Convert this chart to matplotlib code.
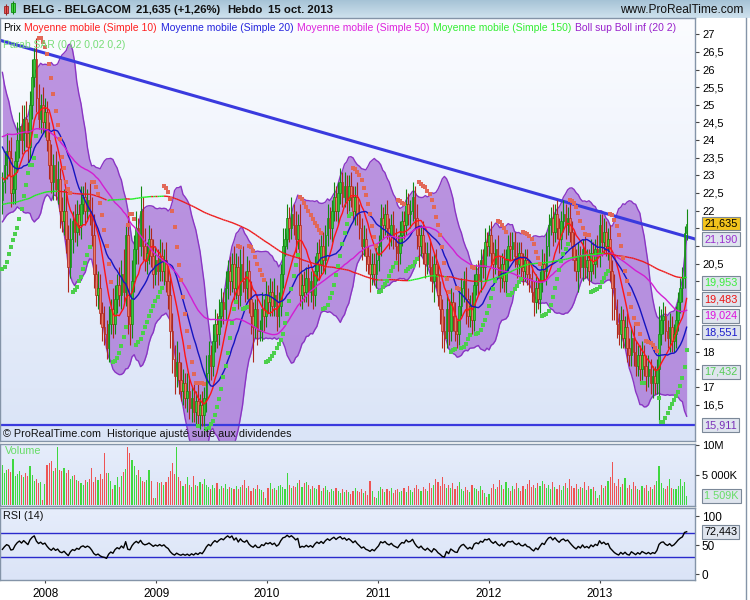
import numpy as np
import pandas as pd
import matplotlib
matplotlib.use("Agg")
import matplotlib.pyplot as plt
from matplotlib.collections import LineCollection
from matplotlib.colors import LinearSegmentedColormap
from matplotlib.transforms import blended_transform_factory

plt.rcParams["font.family"] = ["Liberation Sans", "DejaVu Sans"]

W, H = 750, 600

# ==========================================
# DATA : BELG - BELGACOM, weekly candles
# ==========================================
first_week = "2007-08-13"

# closes of the weeks before the visible window (only used to seed the indicators)
warmup_close = [
    18.8, 19.0, 18.7, 19.1, 19.3, 19.0, 19.4, 19.2, 19.5, 19.3,
    19.6, 19.8, 19.5, 19.9, 20.1, 19.8, 20.0, 19.7, 19.9, 20.2,
    20.0, 20.3, 20.1, 20.4, 20.2, 19.9, 20.1, 20.4, 20.6, 20.3,
    20.5, 20.8, 20.6, 20.9, 20.7, 21.0, 20.8, 21.1, 20.9, 20.6,
    20.8, 21.1, 21.3, 21.0, 21.2, 21.5, 21.3, 21.6, 21.4, 21.7,
    21.9, 22.3, 22.1, 22.6, 22.9, 22.7, 23.1, 23.4, 23.2, 23.6,
    23.9, 23.7, 24.1, 24.4, 24.2, 24.6, 24.3, 24.7, 25.0, 24.8,
    25.2, 24.9, 25.3, 25.6, 25.4, 25.1, 25.5, 25.8, 25.6, 25.3,
    25.6, 25.9, 25.4, 25.0, 25.3, 24.8, 24.4, 24.6, 24.0, 23.8,
    23.5, 23.9, 23.2, 22.6, 23.0, 22.4, 22.9, 23.4, 22.8, 22.3,
]

close = [
    22.8, 23.3, 23.7, 23.5, 22.5, 22.6, 23.4, 24.0, 24.4, 24.0,
    24.6, 24.2, 23.8, 25.0, 25.8, 26.3, 25.2, 24.6, 25.0, 24.5,
    24.8, 24.0, 23.3, 22.8, 23.3, 22.6, 22.9, 22.0, 21.7, 22.0,
    21.2, 20.4, 21.2, 21.7, 21.4, 21.9, 21.6, 22.2, 22.4, 22.0,
    22.3, 22.0, 21.3, 20.2, 19.6, 19.8, 19.1, 18.7, 18.5, 18.1,
    18.8, 19.2, 18.8, 19.5, 19.9, 19.6, 20.2, 19.7, 21.3, 19.0,
    18.8, 20.0, 20.9, 21.5, 21.0, 22.0, 21.0, 20.6, 20.8, 21.2,
    20.7, 20.2, 20.6, 20.3, 20.7, 20.3, 20.6, 20.0, 19.6, 18.6,
    17.8, 17.3, 17.7, 17.2, 16.9, 17.1, 16.7, 16.9, 16.4, 16.7,
    16.3, 16.6, 16.2, 16.5, 16.2, 16.7, 17.4, 17.9, 17.6, 18.3,
    18.8, 18.5, 19.0, 19.4, 19.2, 19.8, 20.3, 20.0, 20.5, 19.8,
    20.4, 19.6, 20.5, 20.0, 19.8, 20.3, 19.5, 19.0, 18.7, 19.2,
    18.6, 18.6, 19.2, 19.0, 19.6, 19.4, 19.7, 19.3, 19.6, 19.0,
    19.3, 20.2, 21.0, 21.2, 21.8, 21.5, 21.9, 21.6, 21.2, 21.6,
    19.6, 19.9, 19.7, 20.1, 19.7, 20.0, 19.6, 20.3, 20.8, 20.5,
    21.0, 20.6, 21.3, 21.8, 21.5, 22.0, 22.4, 22.0, 22.5, 22.8,
    22.4, 22.7, 22.3, 22.7, 22.4, 22.0, 22.4, 21.9, 21.5, 21.0,
    21.2, 20.7, 20.5, 20.2, 20.5, 20.2, 20.6, 21.0, 21.8, 21.6,
    21.9, 21.5, 21.3, 21.6, 21.2, 21.0, 20.8, 21.3, 21.7, 21.6,
    22.2, 21.9, 22.0, 22.4, 21.8, 21.3, 21.0, 21.3, 20.8, 20.5,
    20.8, 20.4, 20.0, 20.5, 20.2, 19.6, 19.2, 18.6, 18.4, 19.2,
    18.6, 19.4, 19.0, 18.6, 18.5, 19.3, 19.8, 20.0, 19.5, 19.0,
    19.3, 18.9, 19.9, 20.2, 20.0, 20.6, 20.4, 21.1, 21.0, 21.3,
    20.8, 20.5, 20.9, 20.4, 20.1, 20.5, 20.0, 20.6, 21.0, 20.9,
    21.1, 20.7, 20.5, 20.8, 20.4, 20.3, 20.6, 20.2, 20.1, 19.7,
    19.4, 19.8, 19.5, 20.0, 20.5, 20.3, 21.0, 21.6, 21.8, 21.4,
    21.9, 21.5, 21.2, 21.7, 21.9, 21.6, 21.8, 21.4, 21.0, 20.6,
    20.3, 20.7, 20.4, 20.9, 20.4, 20.6, 20.3, 20.8, 20.5, 20.9,
    20.7, 21.6, 21.1, 21.4, 21.0, 21.2, 20.3, 19.8, 19.2, 18.8,
    18.5, 18.9, 18.4, 18.7, 18.1, 17.9, 18.4, 18.0, 17.6, 17.9,
    17.5, 17.9, 17.6, 17.3, 17.5, 17.1, 17.3, 17.1, 17.5, 18.5,
    18.9, 19.0, 18.6, 18.4, 18.7, 18.3, 18.5, 18.9, 19.4, 19.8,
    20.1, 21.37, 21.635,
]

# upper / lower shadow beyond the candle body
wick_up = [
    0.3, 0.4, 0.5, 0.3, 0.6, 0.4, 0.3, 0.5, 0.4, 0.6,
    0.4, 0.5, 0.3, 0.4, 0.5, 0.3, 0.6, 0.4, 0.3, 0.5,
    0.4, 0.3, 0.5, 0.6, 0.3, 0.4, 0.5, 0.3, 0.4, 0.6,
    0.5, 0.4, 0.6, 0.3, 0.5, 0.4, 0.3, 0.5, 0.3, 0.4,
    0.3, 0.5, 0.4, 0.6, 0.3, 0.5, 0.4, 0.3, 0.6, 0.4,
    0.5, 0.3, 0.6, 0.4, 0.3, 0.5, 0.4, 0.7, 0.3, 0.6,
    0.5, 0.6, 0.4, 0.5, 0.3, 0.7, 0.4, 0.5, 0.3, 0.4,
    0.3, 0.5, 0.4, 0.3, 0.5, 0.4, 0.3, 0.5, 0.4, 0.6,
    0.5, 0.4, 0.6, 0.3, 0.5, 0.4, 0.3, 0.5, 0.4, 0.3,
    0.4, 0.3, 0.5, 0.3, 0.4, 0.3, 0.5, 0.4, 0.3, 0.5,
    0.4, 0.3, 0.5, 0.4, 0.3, 0.5, 0.3, 0.4, 0.3, 0.5,
    0.4, 0.3, 0.4, 0.5, 0.3, 0.4, 0.3, 0.5, 0.4, 0.3,
    0.4, 0.3, 0.5, 0.3, 0.4, 0.3, 0.4, 0.3, 0.5, 0.3,
    0.4, 0.3, 0.5, 0.3, 0.4, 0.3, 0.5, 0.3, 0.4, 0.3,
    0.6, 0.3, 0.4, 0.3, 0.4, 0.3, 0.3, 0.4, 0.3, 0.4,
    0.3, 0.4, 0.3, 0.4, 0.3, 0.3, 0.4, 0.3, 0.3, 0.4,
    0.3, 0.4, 0.3, 0.3, 0.4, 0.3, 0.3, 0.4, 0.3, 0.3,
    0.4, 0.3, 0.3, 0.4, 0.3, 0.3, 0.4, 0.3, 0.4, 0.3,
    0.3, 0.4, 0.3, 0.3, 0.4, 0.3, 0.3, 0.4, 0.3, 0.3,
    0.4, 0.3, 0.3, 0.4, 0.3, 0.4, 0.3, 0.3, 0.4, 0.3,
    0.3, 0.4, 0.3, 0.3, 0.4, 0.3, 0.4, 0.3, 0.4, 0.5,
    0.3, 0.4, 0.3, 0.4, 0.3, 0.4, 0.3, 0.3, 0.4, 0.3,
    0.3, 0.4, 0.3, 0.3, 0.4, 0.3, 0.3, 0.4, 0.3, 0.3,
    0.4, 0.3, 0.3, 0.4, 0.3, 0.3, 0.4, 0.3, 0.3, 0.4,
    0.3, 0.3, 0.4, 0.3, 0.3, 0.4, 0.3, 0.3, 0.4, 0.3,
    0.3, 0.4, 0.3, 0.3, 0.4, 0.3, 0.4, 0.3, 0.3, 0.4,
    0.3, 0.4, 0.3, 0.3, 0.4, 0.3, 0.3, 0.4, 0.3, 0.4,
    0.3, 0.4, 0.3, 0.3, 0.4, 0.3, 0.3, 0.4, 0.3, 0.3,
    0.4, 0.3, 0.3, 0.4, 0.3, 0.3, 0.4, 0.3, 0.4, 0.3,
    0.3, 0.4, 0.3, 0.3, 0.4, 0.3, 0.3, 0.4, 0.3, 0.3,
    0.3, 0.4, 0.3, 0.3, 0.4, 0.3, 0.3, 0.3, 0.3, 0.8,
    0.3, 0.4, 0.3, 0.3, 0.4, 0.3, 0.3, 0.4, 0.3, 0.3,
    0.3, 0.2, 0.4,
]
wick_dn = [
    0.4, 0.3, 0.4, 0.5, 0.4, 0.3, 0.4, 0.3, 0.5, 0.4,
    0.3, 0.4, 0.5, 0.3, 0.4, 0.3, 0.4, 0.3, 0.4, 0.3,
    0.4, 0.3, 0.4, 0.3, 0.5, 0.3, 0.4, 0.5, 0.3, 0.4,
    0.4, 0.7, 0.3, 0.4, 0.3, 0.4, 0.3, 0.4, 0.3, 0.4,
    0.3, 0.4, 0.3, 0.4, 0.3, 0.4, 0.3, 0.4, 0.3, 0.3,
    0.4, 0.3, 0.4, 0.3, 0.4, 0.3, 0.4, 0.3, 0.4, 0.5,
    0.6, 0.4, 0.3, 0.4, 0.5, 0.3, 0.4, 0.3, 0.4, 0.3,
    0.3, 0.4, 0.3, 0.4, 0.3, 0.3, 0.4, 0.3, 0.4, 0.5,
    0.4, 0.5, 0.3, 0.4, 0.3, 0.4, 0.3, 0.4, 0.3, 0.4,
    0.3, 0.4, 0.3, 0.4, 0.3, 0.3, 0.4, 0.3, 0.4, 0.3,
    0.3, 0.4, 0.3, 0.3, 0.4, 0.3, 0.3, 0.4, 0.3, 0.4,
    0.3, 0.4, 0.3, 0.3, 0.4, 0.3, 0.4, 0.5, 1.0, 0.3,
    0.4, 0.3, 0.3, 0.4, 0.3, 0.3, 0.4, 0.3, 0.3, 0.4,
    0.3, 0.3, 0.4, 0.3, 0.3, 0.4, 0.3, 0.3, 0.4, 0.3,
    0.3, 0.4, 0.3, 0.3, 0.4, 0.3, 0.4, 0.3, 0.3, 0.4,
    0.3, 0.3, 0.4, 0.3, 0.3, 0.4, 0.3, 0.3, 0.4, 0.3,
    0.3, 0.3, 0.4, 0.3, 0.3, 0.3, 0.4, 0.3, 0.3, 0.4,
    0.3, 0.4, 0.3, 0.5, 0.3, 0.3, 0.4, 0.3, 0.3, 0.4,
    0.3, 0.3, 0.4, 0.3, 0.3, 0.4, 0.5, 0.3, 0.3, 0.4,
    0.3, 0.3, 0.4, 0.3, 0.3, 0.4, 0.6, 0.3, 0.3, 0.4,
    0.3, 0.4, 0.3, 0.6, 0.4, 0.3, 0.4, 0.5, 0.4, 0.3,
    0.4, 0.3, 0.4, 0.3, 0.4, 0.3, 0.3, 0.4, 0.7, 0.3,
    0.3, 0.4, 0.3, 0.3, 0.4, 0.3, 0.3, 0.4, 0.3, 0.3,
    0.3, 0.4, 0.3, 0.3, 0.4, 0.3, 0.3, 0.4, 0.3, 0.3,
    0.3, 0.3, 0.4, 0.3, 0.3, 0.4, 0.3, 0.3, 0.4, 0.3,
    0.4, 0.3, 0.3, 0.4, 0.3, 0.3, 0.4, 0.3, 0.3, 0.4,
    0.3, 0.3, 0.4, 0.3, 0.3, 0.4, 0.3, 0.3, 0.4, 0.3,
    0.3, 0.6, 0.3, 0.4, 0.3, 0.3, 0.4, 0.3, 0.3, 0.4,
    0.3, 0.3, 0.4, 0.3, 0.3, 0.4, 0.3, 0.9, 0.3, 0.4,
    0.3, 0.4, 0.3, 0.3, 0.4, 0.3, 0.3, 0.4, 0.3, 0.3,
    0.4, 0.3, 0.3, 0.4, 0.3, 0.3, 0.4, 0.3, 0.3, 1.5,
    0.3, 0.4, 0.3, 0.3, 0.4, 0.3, 0.3, 0.4, 0.3, 0.3,
    0.4, 0.3, 0.2,
]

# weekly volume, millions of shares
volume_m = [
    6.7, 5.3, 5.8, 6.0, 5.5, 7.6, 4.8, 5.2, 5.6, 5.0,
    4.6, 5.3, 4.9, 6.5, 5.0, 4.0, 4.4, 3.6, 3.8, 0.8,
    3.5, 6.6, 7.0, 7.3, 5.6, 6.2, 9.7, 5.8, 5.6, 6.1,
    5.4, 5.8, 4.4, 4.8, 5.0, 4.2, 4.0, 3.6, 3.4, 4.2,
    3.9, 4.4, 6.1, 3.8, 4.6, 4.2, 5.2, 4.4, 8.6, 5.4,
    5.3, 4.0, 2.6, 3.4, 4.6, 3.0, 4.8, 5.5, 6.0, 9.7,
    8.7, 7.5, 6.5, 5.0, 5.8, 4.6, 4.0, 3.9, 4.2, 5.8,
    4.0, 1.1, 1.1, 3.9, 3.6, 3.9, 3.3, 3.8, 4.6, 5.6,
    7.0, 5.2, 9.7, 4.7, 4.0, 3.2, 3.5, 4.6, 3.3, 3.0,
    4.9, 3.4, 3.1, 3.8, 3.5, 4.4, 3.4, 3.0, 2.6, 3.3,
    2.8, 3.6, 2.7, 3.2, 2.9, 3.5, 2.6, 3.0, 2.8, 2.7,
    3.2, 2.6, 3.0, 3.4, 4.2, 2.9, 3.1, 2.4, 2.9, 2.6,
    3.3, 2.7, 2.5, 2.2, 1.2, 2.8, 3.6, 2.6, 2.9, 2.5,
    3.1, 3.3, 3.0, 2.7, 5.3, 3.4, 2.8, 3.2, 3.0, 3.6,
    4.2, 3.0, 3.6, 3.9, 3.4, 2.7, 3.2, 2.9, 2.6, 3.3,
    2.4, 2.8, 3.1, 2.5, 2.2, 2.7, 2.4, 2.9, 2.3, 2.0,
    2.6, 2.2, 2.5, 2.1, 1.9, 2.4, 2.8, 2.3, 2.1, 2.6,
    2.0, 2.4, 1.6, 4.0, 2.3, 1.4, 1.2, 2.4, 3.0, 2.7,
    2.1, 2.6, 2.3, 2.9, 2.0, 2.5, 2.6, 2.2, 2.4, 2.8,
    2.1, 3.2, 2.5, 2.2, 2.9, 3.4, 2.7, 2.3, 3.0, 2.6,
    2.4, 3.6, 2.9, 3.3, 4.4, 3.8, 3.1, 4.6, 3.5, 2.9,
    3.3, 2.8, 3.6, 2.7, 3.1, 3.9, 2.6, 2.4, 3.0, 2.5,
    2.2, 3.4, 2.9, 2.6, 2.3, 3.1, 2.5, 2.0, 1.3, 1.8,
    2.8, 3.5, 2.6, 3.0, 4.1, 3.3, 2.7, 3.8, 2.9, 2.4,
    3.1, 2.6, 3.7, 2.8, 2.3, 3.2, 2.7, 3.5, 4.2, 3.0,
    3.4, 2.8, 3.6, 3.1, 4.0, 3.5, 2.9, 3.3, 2.6, 3.8,
    3.0, 2.7, 3.4, 2.5, 3.1, 3.6, 2.8, 4.3, 3.2, 2.9,
    3.5, 2.6, 3.0, 2.8, 3.9, 2.5, 3.2, 2.7, 3.0, 2.4,
    1.2, 1.6, 3.3, 2.8, 3.1, 4.0, 4.6, 7.2, 3.6, 3.2,
    4.4, 3.0, 3.5, 4.5, 2.8, 3.3, 2.6, 3.9, 3.1, 2.7,
    2.5, 3.2, 2.9, 3.4, 2.4, 3.0, 2.6, 3.3, 4.0, 6.5,
    3.6, 2.9, 2.6, 3.2, 4.4, 2.8, 2.7, 2.6, 3.1, 4.4,
    3.2, 3.9, 1.509,
]

sar_start = 20.35          # Parabolic SAR value under the first visible candle

# user-drawn lines
trend_dates = ["2007-08-05", "2013-11-13"]
trend_prices = [26.83, 21.19]
support_level = 15.911

# last-value boxes on the price scale: value, text, text colour, box colour
price_boxes = [
    (21.635, "21,635", "black", "#f2c31c"),
    (21.190, "21,190", "#9a2fcf", "#dfe5ee"),
    (19.953, "19,953", "#3cee3c", "#dfe5ee"),
    (19.483, "19,483", "#ee1111", "#dfe5ee"),
    (19.024, "19,024", "#dd11dd", "#dfe5ee"),
    (18.551, "18,551", "#1a1acc", "#dfe5ee"),
    (17.432, "17,432", "#55cc55", "#dfe5ee"),
    (15.911, "15,911", "#7a2fb8", "#dfe5ee"),
]
volume_box = (1.509, "1 509K")
rsi_box = (72.443, "72,443")
years = [2008, 2009, 2010, 2011, 2012, 2013]

assert len(close) == len(wick_up) == len(wick_dn) == len(volume_m)

# ==========================================
# INDICATORS
# ==========================================
n = len(close)
nw = len(warmup_close)
c = np.array(close)
o = np.array([warmup_close[-1]] + close[:-1])
hi = np.maximum(o, c) + np.array(wick_up)
lo = np.minimum(o, c) - np.array(wick_dn)
vol = np.array(volume_m)

full = pd.Series(warmup_close + close)
ma = {k: full.rolling(k, min_periods=1).mean().iloc[nw:].to_numpy() for k in (10, 20, 50, 150)}
sd20 = full.rolling(20, min_periods=1).std(ddof=0).iloc[nw:].to_numpy()
bb_up = ma[20] + 2 * sd20
bb_dn = ma[20] - 2 * sd20

d = full.diff()
ag = d.clip(lower=0).ewm(alpha=1 / 14, adjust=False).mean()
al = (-d.clip(upper=0)).ewm(alpha=1 / 14, adjust=False).mean()
rsi = (100 - 100 / (1 + ag / al)).iloc[nw:].to_numpy()


def psar(h, l, s0, af0=0.02, step=0.02, amax=0.2):
    out = np.zeros(len(h))
    up = np.zeros(len(h), bool)
    trend_up, s, ep, af = True, s0, h[0], af0
    for i in range(len(h)):
        if i > 0:
            s = s + af * (ep - s)
            if trend_up:
                s = min(s, l[i - 1], l[max(i - 2, 0)])
                if l[i] < s:
                    trend_up, s, ep, af = False, ep, l[i], af0
                elif h[i] > ep:
                    ep, af = h[i], min(af + step, amax)
            else:
                s = max(s, h[i - 1], h[max(i - 2, 0)])
                if h[i] > s:
                    trend_up, s, ep, af = True, ep, h[i], af0
                elif l[i] < ep:
                    ep, af = l[i], min(af + step, amax)
        out[i] = s
        up[i] = trend_up
    return out, up


sar, sar_up = psar(hi, lo, sar_start)

# ==========================================
# FIGURE
# ==========================================
fig = plt.figure(figsize=(W / 100, H / 100), dpi=100)
fig.patch.set_facecolor("white")


def px_axes(x0, y0, x1, y1):
    return fig.add_axes([x0 / W, 1 - y1 / H, (x1 - x0) / W, (y1 - y0) / H])


x = np.arange(n)
t0 = pd.Timestamp(first_week)
week_px = 2.125
xlim = (-2.4 / week_px, (695 - 2.4) / week_px)


def gradient(ax, top, bottom, ylim):
    cmap = LinearSegmentedColormap.from_list("g", [bottom, top])
    ax.imshow(np.linspace(0, 1, 256).reshape(-1, 1), cmap=cmap, aspect="auto",
              origin="lower", extent=[xlim[0], xlim[1], ylim[0], ylim[1]], zorder=0)


def frame(ax):
    for s in ax.spines.values():
        s.set_color("#8494a8")
        s.set_linewidth(1)


# title bar
ax_t = fig.add_axes([0, 1 - 18 / H, 1, 18 / H])
ax_t.imshow(np.linspace(0, 1, 64).reshape(-1, 1),
            cmap=LinearSegmentedColormap.from_list("t", ["#a6c3d6", "#cfe2ee"]),
            aspect="auto", origin="lower", extent=[0, W, 0, 18])
ax_t.set_xlim(0, W)
ax_t.set_ylim(18, 0)
ax_t.bar([6.0], [7], bottom=[6], width=4, color="#ee5555", edgecolor="#992222", lw=0.6)
ax_t.vlines([6.0], 4, 15, color="#992222", lw=0.8)
ax_t.bar([13.0], [9], bottom=[3], width=4, color="#44dd44", edgecolor="#118811", lw=0.6)
ax_t.vlines([13.0], 1, 14, color="#118811", lw=0.8)
ax_t.axis("off")
for xp, txt in [(23, "BELG - BELGACOM"), (136, "21,635 (+1,26%)"), (227, "Hebdo"), (268, "15 oct. 2013")]:
    ax_t.text(xp, 10, txt, fontsize=8.2, fontweight="bold", va="center", ha="left", color="#111111")
ax_t.text(743, 10, "www.ProRealTime.com", fontsize=8.6, va="center", ha="right", color="#111111")

# ---------- price panel ----------
ax = px_axes(0, 18, 695, 441)
ylim_p = (15.47, 27.46)
ax.set_xlim(*xlim)
ax.set_ylim(*ylim_p)
gradient(ax, "#fbfcff", "#dae4f7", ylim_p)

ax.fill_between(x, bb_dn, bb_up, color="#a56dd5", alpha=0.72, lw=0, zorder=1)
ax.plot(x, bb_up, color="#8a35c4", lw=1, zorder=1.5)
ax.plot(x, bb_dn, color="#8a35c4", lw=1, zorder=1.5)

tx = [(pd.Timestamp(dd) - t0).days / 7 for dd in trend_dates]
ax.plot(tx, trend_prices, color="#3a3ade", lw=2.2, zorder=2, solid_capstyle="butt")
ax.axhline(support_level, color="#3a3ade", lw=1.6, zorder=2)

bull = c >= o
edge = np.where(bull, "#128a12", "#b0281a")
ax.vlines(x, lo, hi, colors=edge, lw=0.8, zorder=3)
ax.bar(x, np.maximum(np.abs(c - o), 0.03), bottom=np.minimum(o, c), width=0.78,
       color=np.where(bull, "#36cc36", "#ec7c68"), edgecolor=edge, linewidth=0.5, zorder=3)

ax.plot(x, ma[10], color="#ff1515", lw=1, zorder=4)
ax.plot(x, ma[20], color="#1515c0", lw=1, zorder=4)
ax.plot(x, ma[50], color="#d21ed2", lw=1, zorder=4)
pts = np.column_stack([x, ma[150]])
segs = np.stack([pts[:-1], pts[1:]], axis=1)
seg_col = np.where(np.diff(ma[150]) >= 0, "#22ee22", "#ee1a1a")
ax.add_collection(LineCollection(segs, colors=seg_col, linewidths=1, zorder=4))

ax.scatter(x[sar_up], sar[sar_up], marker="s", s=7, color="#4ccf4c", lw=0, zorder=5)
ax.scatter(x[~sar_up], sar[~sar_up], marker="s", s=7, color="#e26858", lw=0, zorder=5)

# price scale: tick labels that sit under a last-value box are not shown
ticks = np.arange(16.5, 27.01, 0.5)
box_vals = np.array([b[0] for b in price_boxes])
labels = []
for v in ticks:
    hidden = np.min(np.abs(box_vals - v)) < 0.3
    labels.append("" if hidden else f"{v:g}".replace(".", ","))
ax.set_yticks(ticks)
ax.set_yticklabels(labels)
for lab in ax.get_yticklabels():
    if lab.get_text() == "25":
        lab.set_fontweight("bold")
ax.yaxis.tick_right()
ax.tick_params(axis="y", direction="out", length=3, width=0.8, color="#444444",
               labelsize=8, pad=2)
ax.set_xticks([])
frame(ax)

tr = blended_transform_factory(ax.transAxes, ax.transData)
for val, txt, col, face in price_boxes:
    ax.text(1.0135, val, txt, transform=tr, ha="left", va="center", fontsize=7.8,
            color=col, clip_on=False, zorder=10,
            bbox=dict(boxstyle="square,pad=0.18", fc=face, ec="#7b8898", lw=0.8))


def colored_line(xp, yp, pieces, size=7.5):
    r = fig.canvas.get_renderer()
    for txt, col in pieces:
        t = fig.text(xp / W, 1 - yp / H, txt, color=col, fontsize=size, va="center", ha="left")
        xp += t.get_window_extent(renderer=r).width + 3.5


colored_line(3, 28, [("Prix", "black"),
                     ("Moyenne mobile (Simple 10)", "#ff2020"),
                     ("Moyenne mobile (Simple 20)", "#2424dd"),
                     ("Moyenne mobile (Simple 50)", "#dd22dd"),
                     ("Moyenne mobile (Simple 150)", "#33ee33"),
                     ("Boll sup Boll inf (20 2)", "#9922cc")])
colored_line(3, 45, [("Parab SAR (0,02 0,02 0,2)", "#77dd77")])
fig.text(3 / W, 1 - 434 / H, "\u00a9 ProRealTime.com  Historique ajust\u00e9 suite aux dividendes",
         fontsize=7.8, va="center", ha="left", color="#111111")

# ---------- volume panel ----------
axv = px_axes(0, 444, 695, 506)
ylim_v = (-0.17, 10.17)
axv.set_xlim(*xlim)
axv.set_ylim(*ylim_v)
gradient(axv, "#e6edfb", "#dbe4f7", ylim_v)
vup = c >= o
axv.bar(x, vol, width=0.5, color=np.where(vup, "#3fd83f", "#ee5454"), lw=0, zorder=2)
axv.set_yticks([5, 10])
axv.set_yticklabels(["5 000K", "10M"])
axv.yaxis.tick_right()
axv.tick_params(axis="y", direction="out", length=3, width=0.8, color="#444444",
                labelsize=8, pad=2)
axv.set_xticks([])
frame(axv)
trv = blended_transform_factory(axv.transAxes, axv.transData)
axv.text(1.0135, volume_box[0], volume_box[1], transform=trv, ha="left", va="center",
         fontsize=7.8, color="#66dd66", clip_on=False, zorder=10,
         bbox=dict(boxstyle="square,pad=0.18", fc="#dfe5ee", ec="#7b8898", lw=0.8))
fig.text(5 / W, 1 - 451 / H, "Volume", fontsize=7.8, color="#66dd66", va="center")

# ---------- RSI panel ----------
axr = px_axes(0, 508, 695, 580)
ylim_r = (-10.3, 113.8)
axr.set_xlim(*xlim)
axr.set_ylim(*ylim_r)
gradient(axr, "#e6edfb", "#dbe4f7", ylim_r)
axr.axhline(70, color="#2a2acc", lw=1, zorder=2)
axr.axhline(30, color="#2a2acc", lw=1, zorder=2)
axr.plot(x, rsi, color="black", lw=1, zorder=3)
axr.set_yticks([0, 50, 100])
axr.set_yticklabels(["0", "50", "100"])
for lab in axr.get_yticklabels():
    if lab.get_text() in ("0", "100"):
        lab.set_fontweight("bold")
axr.yaxis.tick_right()
axr.tick_params(axis="y", direction="out", length=3, width=0.8, color="#444444",
                labelsize=8.5, pad=2)
year_x = [(pd.Timestamp(f"{y}-01-01") - t0).days / 7 for y in years]
axr.set_xticks(year_x)
axr.set_xticklabels([str(y) for y in years])
axr.tick_params(axis="x", length=2, color="#444444", labelsize=8.5, pad=4)
frame(axr)
trr = blended_transform_factory(axr.transAxes, axr.transData)
axr.text(1.0135, rsi_box[0], rsi_box[1], transform=trr, ha="left", va="center",
         fontsize=7.8, color="black", clip_on=False, zorder=10,
         bbox=dict(boxstyle="square,pad=0.18", fc="#dfe5ee", ec="#7b8898", lw=0.8))
fig.text(3 / W, 1 - 516 / H, "RSI (14)", fontsize=7.8, color="#111111", va="center")

# outer right border of the chart window
fig.add_artist(plt.Line2D([746 / W, 746 / W], [0, 1 - 18 / H], color="#8494a8", lw=1))

fig.savefig("out.png", dpi=100)
